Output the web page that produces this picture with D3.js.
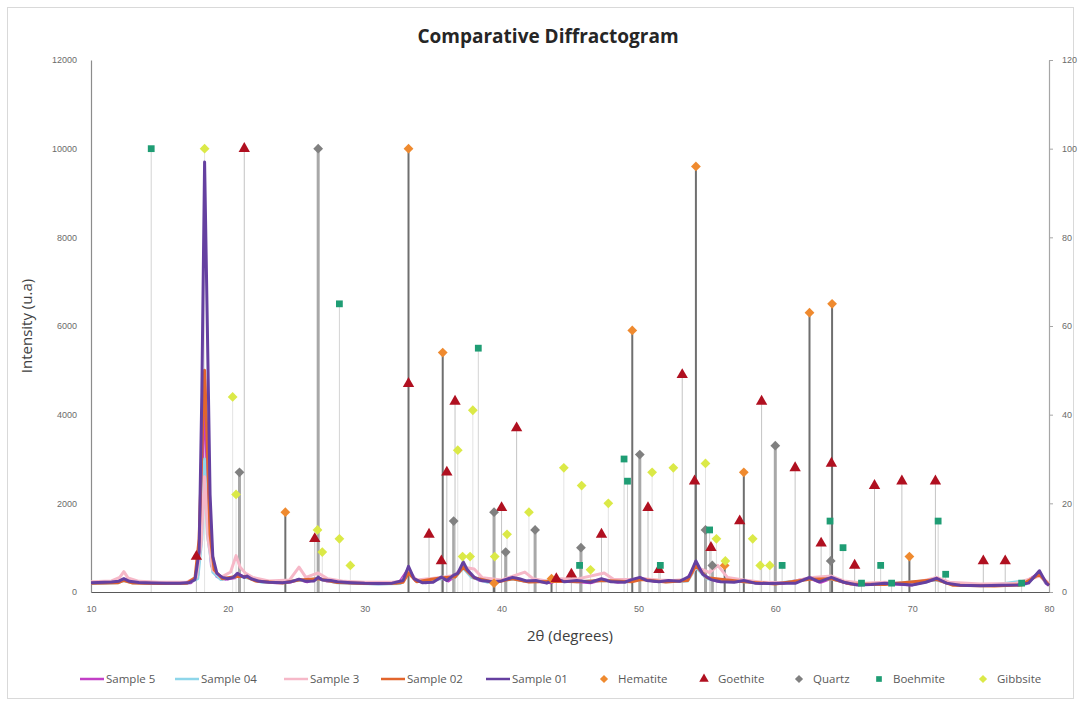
<!DOCTYPE html>
<html>
<head>
<meta charset="utf-8">
<script src="https://cdn.jsdelivr.net/npm/d3@7"></script>
<style>
  body { margin: 0; background: #fff; }
  svg { font-family: 'Open Sans', 'Liberation Sans', sans-serif; }
  .tick text { fill: #6b6b6b; font-size: 9px; }
  .legend text { fill: #595959; font-size: 11.5px; }
</style>
</head>
<body>
<svg id="chart" width="1081" height="706"></svg>
<script>
// diffractogram samples, [2theta, intensity]
const sample5 = [
  [10,200],[11,210],[12,225],[12.4,290],[12.9,225],[14,200],[15.5,190],[16.5,190],[17.3,210],[17.8,380],
  [18.05,1500],[18.3,4800],[18.55,1900],[18.8,600],[19.2,350],[19.8,290],[20.5,320],[20.8,400],[21.2,330],
  [21.5,350],[22.2,240],[23.5,210],[24.5,220],[25.2,280],[25.8,230],[26.6,320],[27.2,250],[28.2,220],
  [29.5,200],[31,185],[32.5,200],[33.2,520],[33.7,260],[34.5,210],[35.6,320],[36.1,250],[36.6,360],
  [37.2,600],[37.7,380],[38.4,260],[39.5,230],[40.8,310],[41.6,250],[42.7,240],[43.6,210],[44.2,280],
  [45.2,240],[46.5,210],[47.4,280],[48.5,220],[49.5,260],[50.2,310],[51.2,240],[52.3,250],[53.5,260],
  [54.2,620],[54.9,330],[55.8,240],[57.7,250],[58.8,200],[60.5,190],[62.5,310],[63.3,220],[64.1,310],
  [65.2,200],[66.5,170],[68,190],[70,160],[71.8,290],[72.7,190],[74,150],[76,145],[78,170],[79.3,430],
  [79.8,190],[80,150]
]
const sample04 = [
  [10,190],[12,210],[12.4,260],[13,210],[15,190],[17,195],[17.8,300],[18.1,1200],[18.3,3000],[18.5,1300],
  [18.9,450],[19.5,280],[20.8,360],[21.4,320],[22.5,220],[25.2,260],[26.6,300],[28,210],[31,180],
  [32.6,190],[33.2,470],[33.8,240],[35.6,300],[36.6,330],[37.2,540],[37.8,330],[39,220],[40.8,290],[42,230],
  [44.2,260],[45.5,230],[47.4,260],[49.5,240],[50.2,290],[52,230],[53.6,250],[54.2,560],[55,300],[57.7,230],
  [60,190],[62.5,290],[64.1,290],[65.5,190],[68,180],[71.8,270],[73,170],[76,160],[77.7,230],[78.3,180],
  [79.3,420],[79.8,200],[80,170]
]
const sample3 = [
  [10,230],[11.5,250],[12.1,330],[12.4,460],[12.7,320],[13.5,240],[15,220],[17,225],[17.7,330],[18.05,1100],
  [18.3,2600],[18.55,1200],[18.9,500],[19.5,330],[20.2,450],[20.6,820],[20.9,560],[21.3,420],[21.8,330],
  [23,250],[24.5,270],[25.2,560],[25.7,330],[26.6,430],[27.3,300],[28.5,240],[30,220],[32,220],[32.7,240],[33.2,460],
  [33.8,270],[35.6,330],[36.6,380],[37.2,560],[38,520],[38.6,320],[40,270],[41.7,450],[42.3,300],[43.5,240],
  [44.3,300],[45.5,290],[47.5,430],[48.2,280],[49.5,280],[50.3,300],[51.5,270],[52.5,260],[53.6,280],[54.2,560],
  [55.2,440],[55.8,600],[56.5,330],[57.7,270],[59,220],[61,210],[62.5,320],[64.1,360],[65,250],[66.5,200],
  [68,220],[70,190],[71.8,330],[72.7,220],[75,180],[77.5,190],[79.3,360],[80,200]
]
const sample02 = [
  [10,195],[12,210],[12.4,260],[13,205],[15,190],[17,195],[17.6,320],[17.9,1200],[18.1,3200],[18.3,5000],
  [18.5,3300],[18.7,1300],[19,500],[19.6,300],[20.6,350],[21.3,350],[22,250],[24,205],[25.2,270],
  [26.6,300],[28,215],[30,190],[32.3,195],[32.8,220],[33.2,430],[33.8,230],[35.6,320],[36.6,340],[37.2,560],
  [38,320],[39.5,215],[40.8,300],[42,225],[44.2,240],[45.5,230],[47.4,260],[49.5,230],[50.2,280],
  [52,225],[53.6,260],[54.2,600],[55,320],[57.7,230],[60,180],[62.5,290],[64.1,300],[65.5,180],[68,170],
  [71.8,280],[73,150],[76,135],[78,160],[79.3,400],[80,150]
]
const sample01 = [
  [10,210],[10.5,215],[11,220],[11.5,225],[12,240],[12.4,300],[12.8,240],[13.5,215],[14.5,205],[15.5,200],
  [16.5,195],[17.2,215],[17.6,280],[17.9,900],[18.1,4500],[18.3,9700],[18.5,6000],[18.7,2200],[18.9,800],
  [19.2,420],[19.6,330],[20,300],[20.4,330],[20.7,420],[20.9,380],[21.2,330],[21.4,360],[21.7,300],
  [22.3,240],[23,220],[24,210],[24.6,230],[25.2,290],[25.7,240],[26.3,250],[26.6,330],[26.9,270],
  [27.5,260],[28,230],[28.5,220],[29,210],[30,195],[31,190],[32,200],[32.8,260],[33.2,580],[33.6,300],
  [34.2,210],[35,220],[35.6,340],[36,260],[36.5,380],[36.8,420],[37.2,680],[37.5,500],[38,330],
  [38.5,260],[39.3,230],[40,250],[40.8,330],[41.3,300],[41.8,250],[42.5,260],[43.3,200],[44,300],
  [44.6,230],[45.5,260],[46.5,220],[47.3,300],[48,230],[49,220],[49.5,280],[50.1,330],[50.6,260],
  [51.5,230],[52.2,260],[53,240],[53.7,350],[54.2,700],[54.7,400],[55.3,280],[56,230],[57,220],
  [57.7,260],[58.5,200],[59.5,190],[60.5,200],[61.5,200],[62.5,330],[63.2,230],[64.1,330],[65,220],
  [66,160],[67,170],[68,200],[69,180],[70,160],[71,220],[71.8,310],[72.5,200],[73.5,150],[75,140],
  [76.5,150],[77.7,160],[78.5,200],[79.3,480],[79.8,200],[80,150]
]

// reference phases, [2theta, relative intensity %]
const hematite = [
  [24.2,18],[33.2,100],[35.7,54],[39.45,2],[43.65,3],[49.55,59],[54.2,96],[56.3,6],[57.7,27],
  [62.5,63],[64.15,65],[69.8,8]
]
const goethite = [
  [17.7,8],[21.2,100],[26.35,12],[33.2,47],[34.7,13],[35.6,7],[36.0,27],[36.6,43],[40.0,19],[41.1,37],
  [44.0,3],[45.1,4],[47.3,13],[50.7,19],[51.5,5],[53.2,49],[54.1,25],[55.3,10],[57.4,16],[59.0,43],
  [61.45,28],[63.35,11],[64.1,29],[65.8,6],[67.25,24],[69.25,25],[71.7,25],[75.2,7],[76.8,7]
]
const quartz = [
  [20.85,27],[26.6,100],[36.5,16],[39.45,18],[40.3,9],[42.45,14],[45.8,10],[50.1,31],[54.9,14],
  [55.4,6],[60.0,33],[64.05,7]
]
const boehmite = [
  [14.4,100],[28.15,65],[38.3,55],[45.7,6],[48.95,30],[49.2,25],[51.6,6],[55.2,14],[60.5,6],[64.0,16],
  [64.95,10],[66.3,2],[67.7,6],[68.5,2],[71.9,16],[72.45,4],[78.0,2]
]
const gibbsite = [
  [18.3,100],[20.35,44],[20.6,22],[26.55,14],[26.9,9],[28.15,12],[28.95,6],[36.8,32],[37.15,8],[37.7,8],
  [37.9,41],[39.5,8],[40.4,13],[42.0,18],[44.55,28],[45.85,24],[46.5,5],[47.8,20],[51.0,27],[52.55,28],
  [54.9,29],[55.7,12],[56.35,7],[58.35,12],[58.9,6],[59.6,6]
]

const xTicks = [10, 20, 30, 40, 50, 60, 70, 80]
const yTicks = [0, 2000, 4000, 6000, 8000, 10000, 12000]
const y2Ticks = [0, 20, 40, 60, 80, 100, 120]

const samples = [
  { name: 'Sample 5', data: sample5, color: '#c23fc6' },
  { name: 'Sample 04', data: sample04, color: '#8ed6ea' },
  { name: 'Sample 3', data: sample3, color: '#f6b8c8' },
  { name: 'Sample 02', data: sample02, color: '#e2652c' },
  { name: 'Sample 01', data: sample01, color: '#6540a0' }
]
const phases = [
  { name: 'Hematite', data: hematite, color: '#ef8a2f', sym: d3.symbolSquare, rot: 45, size: 48, line: '#6f6f6f', lw: 2 },
  { name: 'Goethite', data: goethite, color: '#b01020', sym: d3.symbolTriangle, rot: 0, size: 56, line: '#c4c4c4', lw: 1 },
  { name: 'Quartz', data: quartz, color: '#808080', sym: d3.symbolSquare, rot: 45, size: 48, line: '#a8a8a8', lw: 3 },
  { name: 'Boehmite', data: boehmite, color: '#1f9d74', sym: d3.symbolSquare, rot: 0, size: 46, line: '#d4d4d4', lw: 1 },
  { name: 'Gibbsite', data: gibbsite, color: '#dbe947', sym: d3.symbolSquare, rot: 45, size: 48, line: '#e3e3e3', lw: 1 }
]

const svg = d3.select('#chart')
const plotLeft = 91, plotRight = 1049, plotTop = 60, plotBottom = 592

svg.append('rect')
  .attr('x', 7.5).attr('y', 7.5)
  .attr('width', 1066).attr('height', 691)
  .attr('fill', '#fff')
  .attr('stroke', '#d9d9d9')

const x = d3.scaleLinear().domain([10, 80]).range([plotLeft, plotRight])
const y = d3.scaleLinear().domain([0, 12000]).range([plotBottom, plotTop])
const y2 = d3.scaleLinear().domain([0, 120]).range([plotBottom, plotTop])

// drop lines for reference peaks
const dropLayer = svg.append('g')
phases.slice().reverse().forEach(p => {
  dropLayer.append('g')
    .selectAll('line')
    .data(p.data)
    .join('line')
    .attr('x1', d => x(d[0])).attr('x2', d => x(d[0]))
    .attr('y1', d => y2(d[1])).attr('y2', y2(0))
    .attr('stroke', p.line)
    .attr('stroke-width', p.lw)
})

// axes
const yAxis = svg.append('g')
  .attr('transform', `translate(${plotLeft},0)`)
  .call(d3.axisLeft(y).tickValues(yTicks).tickSize(0).tickPadding(14).tickFormat(d3.format('d')))
yAxis.select('.domain').attr('stroke', '#8c8c8c')

const y2Axis = svg.append('g')
  .attr('transform', `translate(${plotRight},0)`)
  .call(d3.axisRight(y2).tickValues(y2Ticks).tickSize(4).tickSizeOuter(0).tickPadding(9))
y2Axis.select('.domain').attr('stroke', '#a6a6a6')
y2Axis.selectAll('.tick line').attr('stroke', '#a6a6a6')

const xAxis = svg.append('g')
  .attr('transform', `translate(0,${plotBottom})`)
  .call(d3.axisBottom(x).tickValues(xTicks).tickSize(0).tickPadding(14))
xAxis.select('.domain').attr('stroke', '#595959')

svg.selectAll('.domain').attr('stroke-width', 1.2)

// sample curves
const line = d3.line().x(d => x(d[0])).y(d => y(d[1]))
svg.append('g')
  .selectAll('path')
  .data(samples)
  .join('path')
  .attr('d', d => line(d.data))
  .attr('fill', 'none')
  .attr('stroke', d => d.color)
  .attr('stroke-width', 3)
  .attr('stroke-linejoin', 'round')

// phase markers
phases.forEach(p => {
  svg.append('g')
    .selectAll('path')
    .data(p.data)
    .join('path')
    .attr('transform', d => `translate(${x(d[0])},${y2(d[1])}) rotate(${p.rot})`)
    .attr('d', d3.symbol(p.sym, p.size))
    .attr('fill', p.color)
})

// titles
svg.append('text')
  .attr('x', 548).attr('y', 43)
  .attr('text-anchor', 'middle')
  .attr('font-size', 19).attr('font-weight', 'bold')
  .attr('fill', '#262626')
  .text('Comparative Diffractogram')

svg.append('text')
  .attr('transform', 'translate(32,326) rotate(-90)')
  .attr('text-anchor', 'middle')
  .attr('font-size', 15)
  .attr('fill', '#404040')
  .text('Intensity (u.a)')

svg.append('text')
  .attr('x', 570).attr('y', 641)
  .attr('text-anchor', 'middle')
  .attr('font-size', 15)
  .attr('fill', '#404040')
  .text('2θ (degrees)')

// legend
const legend = svg.append('g').attr('class', 'legend')
const lineItems = [80, 175, 284, 381, 486]
samples.forEach((s, i) => {
  const lx = lineItems[i]
  legend.append('line')
    .attr('x1', lx).attr('x2', lx + 24)
    .attr('y1', 679).attr('y2', 679)
    .attr('stroke', s.color).attr('stroke-width', 2.5)
  legend.append('text')
    .attr('x', lx + 26).attr('y', 683)
    .text(s.name)
})
const markItems = [604, 704, 799, 879, 983]
phases.forEach((p, i) => {
  const mx = markItems[i]
  legend.append('path')
    .attr('transform', `translate(${mx},679) rotate(${p.rot})`)
    .attr('d', d3.symbol(p.sym, p.size * 0.7))
    .attr('fill', p.color)
  legend.append('text')
    .attr('x', mx + 14).attr('y', 683)
    .text(p.name)
})
</script>
</body>
</html>
